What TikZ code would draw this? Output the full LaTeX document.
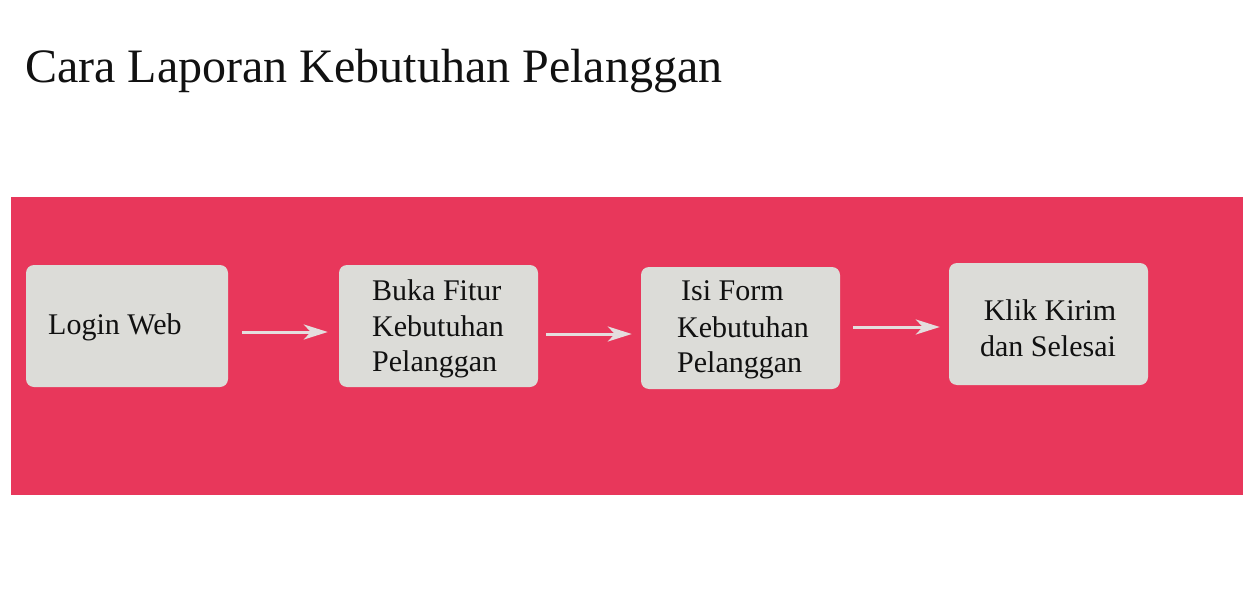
\documentclass[tikz,border=0pt]{standalone}
\usepackage{fontspec}
\setmainfont{Liberation Serif}
\usetikzlibrary{arrows.meta}
\definecolor{band}{HTML}{E8375B}
\definecolor{boxgray}{HTML}{DCDCD8}
\definecolor{arrowgray}{HTML}{E4DEDE}
\definecolor{ink}{HTML}{111111}
\begin{document}
\begin{tikzpicture}[x=1pt,y=-1pt,
  stepbox/.style={rectangle, rounded corners=8pt, fill=boxgray, draw=none, inner sep=0pt, minimum width=200pt, minimum height=122pt},
  lbl/.style={inner sep=0pt, anchor=base west, text=ink, font=\fontsize{30}{35}\selectfont},
  clbl/.style={lbl, anchor=base},
  arr/.style={draw=arrowgray, line width=3pt, -{Stealth[length=24pt, width=15pt, inset=7pt]}}
]
\useasboundingbox (0,0) rectangle (1253,599);
\fill[white] (0,0) rectangle (1253,599);
\node[inner sep=0pt, anchor=base west, text=ink, font=\fontsize{48}{56}\selectfont] (title) at (25,83) {Cara Laporan Kebutuhan Pelanggan};
\fill[band] (11,197) rectangle (1243,495);
\node[stepbox, minimum width=202pt] (b1) at (127,326) {};
\node[stepbox, minimum width=199pt] (b2) at (438.5,326) {};
\node[stepbox, minimum width=199pt] (b3) at (740.5,328) {};
\node[stepbox, minimum width=199pt] (b4) at (1048.5,324) {};
\node[lbl] (t1) at (48,334) {Login Web};
\node[lbl] (t2a) at (372,300) {Buka Fitur};
\node[lbl] (t2b) at (372,336) {Kebutuhan};
\node[lbl] (t2c) at (372,371) {Pelanggan};
\node[lbl] (t3a) at (681,300) {Isi Form};
\node[lbl] (t3b) at (677,337) {Kebutuhan};
\node[lbl] (t3c) at (677,372) {Pelanggan};
\node[clbl] (t4a) at (1050,320) {Klik Kirim};
\node[clbl] (t4b) at (1048,356) {dan Selesai};
\draw[arr] ([xshift=14pt,yshift=-6pt]b1.east) -- ([xshift=-11pt,yshift=-6pt]b2.west);
\draw[arr] ([xshift=8pt,yshift=-8pt]b2.east) -- ([xshift=-9pt,yshift=-6pt]b3.west);
\draw[arr] ([xshift=13pt,yshift=1pt]b3.east) -- ([xshift=-9pt,yshift=-3pt]b4.west);
\end{tikzpicture}
\end{document}
